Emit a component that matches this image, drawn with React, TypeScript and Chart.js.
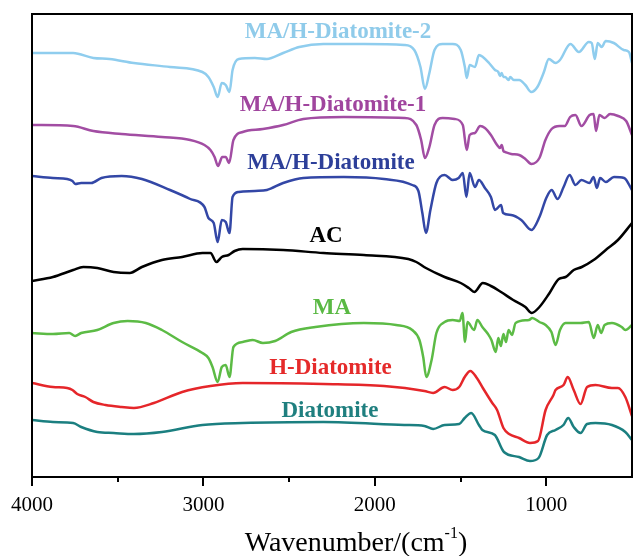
import React, { useEffect, useRef } from "react";
import { Chart, registerables } from "chart.js";

Chart.register(...registerables);

// Series names and colours
const SERIES_NAMES = ["MA/H-Diatomite-2", "MA/H-Diatomite-1", "MA/H-Diatomite", "AC", "MA", "H-Diatomite", "Diatomite"];
const SERIES_COLORS = ["#8fcdee", "#a24da3", "#3347a6", "#000000", "#5cbb45", "#e5262a", "#1b7f80"];
const LABEL_COLORS = ["#8fcbea", "#a0459e", "#2d3f99", "#000000", "#5ab944", "#e52a2a", "#1f7f7f"];
// label anchor (wavenumber, offset transmittance a.u.)
const LABEL_WN = [2215, 2244, 2256, 2285, 2250, 2259, 2262];
const LABEL_VAL = [445, 372, 314, 241, 169, 109, 66];

// x axis ticks
const TICK_VALUES = [4000, 3500, 3000, 2500, 2000, 1500, 1000];
const MAJOR_TICKS = [4000, 3000, 2000, 1000];

// MA/H-Diatomite-2
const D2_WN = [4000, 3760, 3642, 3548, 3406, 3195, 3006, 2971, 2940, 2917, 2893, 2870, 2848, 2830, 2794, 2700, 2630, 2535, 2441, 2300, 2064, 1829, 1770, 1734, 1708, 1682, 1652, 1605, 1546, 1499, 1475, 1464, 1447, 1416, 1393, 1370, 1334, 1299, 1280, 1270, 1260, 1250, 1240, 1220, 1210, 1190, 1158, 1122, 1088, 1052, 1016, 985, 946, 920, 859, 810, 752, 735, 717, 700, 677, 653, 606, 548, 518, 500];
const D2_T = [424, 424, 419, 418, 414, 410, 405, 400, 390, 380, 394, 392, 385, 407, 418, 419, 418, 424, 430, 433, 433, 432, 427, 410, 388, 404, 427, 433, 433, 427, 410, 399, 412, 410, 422, 420, 414, 407, 405, 401, 404, 400, 400, 397, 400, 397, 397, 392, 385, 390, 404, 418, 414, 417, 433, 425, 435, 434, 418, 434, 430, 436, 434, 427, 425, 414];

// MA/H-Diatomite-1
const D1_WN = [4000, 3760, 3642, 3477, 3242, 3077, 2994, 2959, 2935, 2915, 2890, 2870, 2850, 2825, 2771, 2653, 2535, 2417, 2182, 1829, 1758, 1730, 1708, 1682, 1652, 1605, 1534, 1487, 1464, 1447, 1416, 1386, 1358, 1323, 1287, 1270, 1260, 1250, 1240, 1205, 1158, 1122, 1087, 1040, 1005, 969, 922, 892, 861, 830, 795, 747, 724, 710, 690, 660, 628, 581, 534, 500];
const D1_T = [352, 351, 346, 343, 340, 337, 332, 327, 320, 311, 320, 320, 314, 337, 345, 348, 352, 358, 360, 359, 352, 337, 319, 330, 352, 359, 358, 352, 327, 342, 344, 351, 349, 342, 332, 329, 332, 326, 325, 323, 322, 318, 313, 319, 337, 348, 351, 351, 360, 362, 351, 362, 363, 346, 362, 359, 363, 361, 356, 342];

// MA/H-Diatomite
const HD_WN = [4000, 3878, 3795, 3764, 3748, 3713, 3654, 3595, 3477, 3359, 3195, 3077, 2994, 2971, 2940, 2917, 2893, 2870, 2848, 2830, 2794, 2700, 2630, 2535, 2417, 2182, 1947, 1782, 1746, 1723, 1702, 1676, 1641, 1593, 1546, 1511, 1487, 1466, 1447, 1416, 1393, 1358, 1323, 1299, 1264, 1252, 1205, 1146, 1087, 1040, 1000, 969, 934, 899, 864, 830, 795, 748, 724, 705, 686, 653, 605, 546, 500];
const HD_T = [301, 299, 298, 296, 293, 294, 294, 299, 301, 298, 287, 278, 270, 259, 254, 235, 257, 255, 244, 280, 285, 286, 287, 294, 299, 300, 298, 292, 286, 264, 244, 267, 294, 302, 297, 299, 304, 280, 304, 290, 297, 289, 280, 267, 272, 264, 262, 257, 247, 260, 279, 287, 278, 290, 302, 292, 297, 294, 300, 289, 299, 295, 300, 299, 287];

// AC
const AC_WN = [4000, 3878, 3760, 3701, 3619, 3524, 3430, 3359, 3242, 3124, 3006, 2959, 2924, 2893, 2853, 2818, 2771, 2535, 2300, 2064, 1805, 1758, 1702, 1593, 1499, 1452, 1420, 1370, 1323, 1264, 1193, 1122, 1085, 1040, 981, 927, 887, 840, 793, 724, 653, 582, 500];
const AC_T = [196, 200, 207, 210, 209, 205, 204, 210, 217, 220, 224, 224, 215, 220, 222, 226, 228, 227, 224, 222, 218, 215, 209, 200, 194, 189, 185, 194, 191, 185, 177, 170, 164, 170, 184, 198, 200, 207, 210, 217, 227, 237, 254];

// MA
const MA_WN = [4000, 3878, 3783, 3748, 3713, 3619, 3524, 3442, 3336, 3242, 3124, 3006, 2971, 2947, 2917, 2893, 2870, 2848, 2825, 2771, 2712, 2653, 2582, 2488, 2347, 2064, 1876, 1782, 1740, 1718, 1700, 1669, 1641, 1593, 1546, 1505, 1489, 1474, 1460, 1421, 1402, 1373, 1340, 1320, 1295, 1280, 1265, 1250, 1235, 1220, 1200, 1179, 1101, 1082, 1040, 1004, 970, 946, 920, 888, 800, 752, 723, 700, 680, 660, 617, 560, 539, 500];
const MA_T = [144, 143, 144, 141, 144, 147, 154, 156, 154, 147, 135, 124, 119, 110, 95, 110, 112, 100, 130, 135, 137, 134, 136, 145, 150, 154, 152, 147, 137, 120, 100, 117, 144, 155, 157, 156, 164, 135, 155, 147, 157, 150, 143, 137, 125, 139, 131, 143, 135, 147, 142, 154, 157, 159, 155, 152, 145, 132, 147, 154, 154, 155, 139, 152, 144, 152, 154, 150, 147, 152];

// H-Diatomite
const HDT_WN = [4000, 3878, 3795, 3764, 3736, 3689, 3642, 3571, 3477, 3406, 3289, 3124, 2959, 2771, 2300, 1947, 1711, 1660, 1593, 1546, 1508, 1476, 1443, 1405, 1370, 1315, 1287, 1250, 1217, 1159, 1095, 1048, 1004, 958, 946, 899, 875, 840, 800, 762, 713, 617, 582, 539, 500];
const HDT_T = [94, 90, 89, 87, 83, 80, 75, 72, 70, 69, 74, 85, 91, 94, 93, 91, 86, 84, 90, 87, 90, 100, 106, 99, 89, 74, 67, 49, 43, 39, 34, 36, 67, 82, 87, 92, 100, 87, 73, 90, 92, 89, 89, 80, 61];

// Diatomite
const DT_WN = [4000, 3878, 3760, 3713, 3619, 3524, 3406, 3242, 3006, 2771, 2300, 1829, 1711, 1660, 1593, 1508, 1476, 1438, 1393, 1373, 1300, 1247, 1159, 1095, 1045, 995, 946, 900, 872, 840, 800, 762, 713, 617, 539, 500];
const DT_T = [57, 55, 54, 50, 45, 44, 43, 45, 52, 54, 55, 52, 51, 48, 52, 53, 59, 64, 52, 47, 42, 25, 20, 16, 19, 42, 47, 52, 59, 50, 44, 53, 54, 52, 45, 37];

const SERIES_WN = [D2_WN, D1_WN, HD_WN, AC_WN, MA_WN, HDT_WN, DT_WN];
const SERIES_T = [D2_T, D1_T, HD_T, AC_T, MA_T, HDT_T, DT_T];

const SERIF = '"Liberation Serif", "Times New Roman", Times, serif';

const overlayPlugin = {
  id: "overlay",
  afterDraw(chart: any) {
    const { ctx, chartArea } = chart;
    const xs = chart.scales.x;
    const ys = chart.scales.y;
    ctx.save();
    // frame
    ctx.strokeStyle = "#000";
    ctx.lineWidth = 2;
    ctx.strokeRect(chartArea.left, chartArea.top, chartArea.right - chartArea.left, chartArea.bottom - chartArea.top);
    // tick marks
    TICK_VALUES.forEach((v) => {
      const px = Math.round(xs.getPixelForValue(v));
      const len = MAJOR_TICKS.includes(v) ? 9 : 5;
      ctx.beginPath();
      ctx.moveTo(px, chartArea.bottom);
      ctx.lineTo(px, chartArea.bottom + len);
      ctx.stroke();
    });
    // series labels
    ctx.font = `bold 23px ${SERIF}`;
    ctx.textAlign = "center";
    ctx.textBaseline = "middle";
    SERIES_NAMES.forEach((name, i) => {
      ctx.fillStyle = LABEL_COLORS[i];
      ctx.fillText(name, xs.getPixelForValue(LABEL_WN[i]), ys.getPixelForValue(LABEL_VAL[i]));
    });
    // axis title with superscript
    const main1 = "Wavenumber/(cm";
    const sup = "-1";
    const main2 = ")";
    ctx.textAlign = "left";
    ctx.textBaseline = "alphabetic";
    ctx.fillStyle = "#000";
    ctx.font = `28px ${SERIF}`;
    const w1 = ctx.measureText(main1).width;
    const w3 = ctx.measureText(main2).width;
    ctx.font = `16px ${SERIF}`;
    const w2 = ctx.measureText(sup).width;
    const total = w1 + w2 + w3;
    const cx = (chartArea.left + chartArea.right) / 2 + 24;
    const base = 551;
    let x0 = cx - total / 2;
    ctx.font = `28px ${SERIF}`;
    ctx.fillText(main1, x0, base);
    ctx.font = `16px ${SERIF}`;
    ctx.fillText(sup, x0 + w1, base - 13);
    ctx.font = `28px ${SERIF}`;
    ctx.fillText(main2, x0 + w1 + w2, base);
    ctx.restore();
  },
};

export default function App() {
  const canvasRef = useRef<HTMLCanvasElement | null>(null);

  useEffect(() => {
    const canvas = canvasRef.current;
    if (!canvas) return;
    const datasets = SERIES_NAMES.map((name, i) => ({
      label: name,
      data: SERIES_WN[i].map((w, j) => ({ x: w, y: SERIES_T[i][j] })),
      borderColor: SERIES_COLORS[i],
      backgroundColor: SERIES_COLORS[i],
      borderWidth: 2.5,
      pointRadius: 0,
      fill: false,
      cubicInterpolationMode: "monotone" as const,
    }));
    const chart = new Chart(canvas, {
      type: "line",
      data: { datasets },
      options: {
        animation: false,
        responsive: false,
        maintainAspectRatio: false,
        layout: { padding: { top: 14, right: 1, left: 0, bottom: 0 } },
        plugins: { legend: { display: false }, tooltip: { enabled: false }, title: { display: false } },
        scales: {
          x: {
            type: "linear",
            reverse: true,
            min: 500,
            max: 4000,
            grid: { display: false },
            border: { display: false },
            afterBuildTicks: (scale: any) => {
              scale.ticks = TICK_VALUES.map((v) => ({ value: v }));
            },
            afterFit: (scale: any) => {
              scale.height = 79;
            },
            ticks: {
              autoSkip: false,
              maxRotation: 0,
              padding: 8,
              color: "#000",
              font: { family: SERIF, size: 21 },
              callback: (v: any) => (MAJOR_TICKS.includes(Number(v)) ? String(v) : ""),
            },
          },
          y: {
            display: true,
            min: 0,
            max: 463,
            grid: { display: false },
            border: { display: false },
            ticks: { display: false },
            afterFit: (scale: any) => {
              scale.width = 32;
            },
          },
        },
      },
      plugins: [overlayPlugin],
    });
    return () => chart.destroy();
  }, []);

  return (
    <div style={{ position: "absolute", left: 0, top: 0, width: 633, height: 556, background: "#fff" }}>
      <canvas ref={canvasRef} width={633} height={556} style={{ display: "block" }} />
    </div>
  );
}
